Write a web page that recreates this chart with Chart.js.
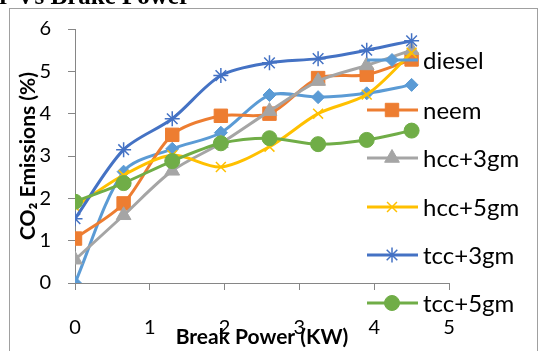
<!DOCTYPE html>
<html>
<head>
<meta charset="utf-8">
<script src="https://cdn.jsdelivr.net/npm/chart.js@4.4.1/dist/chart.umd.min.js"></script>
<style>
  html, body { margin: 0; padding: 0; background: #fff; }
  canvas { display: block; }
</style>
</head>
<body>
<canvas id="co2Chart" width="541" height="351"></canvas>
<script>
// break power (KW) for each reading
const breakPower = [0, 0.65, 1.3, 1.95, 2.6, 3.25, 3.9, 4.5];

// CO2 emissions (%) per fuel
const diesel = [0, 2.63, 3.17, 3.55, 4.44, 4.39, 4.48, 4.68];
const neem = [1.05, 1.88, 3.5, 3.95, 4.0, 4.84, 4.92, 5.28];
const hcc3 = [0.55, 1.6, 2.65, 3.3, 4.06, 4.77, 5.14, 5.5];
const hcc5 = [1.8, 2.55, 3.02, 2.74, 3.22, 4.0, 4.45, 5.44];
const tcc3 = [1.52, 3.15, 3.88, 4.9, 5.2, 5.3, 5.5, 5.72];
const tcc5 = [1.92, 2.36, 2.88, 3.3, 3.42, 3.28, 3.38, 3.6];

const seriesNames = ['diesel', 'neem', 'hcc+3gm', 'hcc+5gm', 'tcc+3gm', 'tcc+5gm'];
const seriesValues = [diesel, neem, hcc3, hcc5, tcc3, tcc5];
const colors = ['#5B9BD5', '#ED7D31', '#A5A5A5', '#FFC000', '#4472C4', '#70AD47'];
const markers = ['rectRot', 'rect', 'triangle', 'crossRot', 'star', 'circle'];
const markerSize = [6.5, 9.5, 8.5, 7, 7.5, 7.5];

const axisGray = '#868686';

const datasets = seriesNames.map((name, i) => ({
  label: name,
  data: breakPower.map((x, j) => ({ x: x, y: seriesValues[i][j] })),
  borderColor: colors[i],
  backgroundColor: colors[i],
  borderWidth: 3,
  tension: 0.3,
  pointStyle: markers[i],
  pointRadius: markerSize[i],
  pointBorderWidth: (markers[i] === 'crossRot' || markers[i] === 'star') ? 1.5 : 1,
  pointBackgroundColor: colors[i],
  pointBorderColor: colors[i],
  order: seriesNames.length - i,
}));

// white page, grey frame and the clipped title above it
const framePlugin = {
  id: 'frame',
  beforeDraw(chart) {
    const ctx = chart.ctx;
    ctx.save();
    ctx.fillStyle = '#fff';
    ctx.fillRect(0, 0, chart.width, chart.height);
    ctx.strokeStyle = '#A0A0A0';
    ctx.lineWidth = 1;
    ctx.strokeRect(9.5, 8.5, 528, 400);
    ctx.fillStyle = '#000';
    ctx.font = 'bold 25px "Liberation Serif"';
    ctx.textAlign = 'right';
    ctx.textBaseline = 'alphabetic';
    ctx.fillText('CO2 Emission for Vs Brake Power', 190, 4);
    ctx.restore();
  },
};

// legend sits over the right part of the plot like the original
const legendPlugin = {
  id: 'sideLegend',
  afterDraw(chart) {
    const ctx = chart.ctx;
    const rows = [60, 110, 158, 207, 255, 303];
    ctx.save();
    chart.data.datasets.forEach((ds, i) => {
      const y = rows[i];
      ctx.strokeStyle = ds.borderColor;
      ctx.lineWidth = 3;
      ctx.beginPath();
      ctx.moveTo(367, y);
      ctx.lineTo(418, y);
      ctx.stroke();
      ctx.fillStyle = ds.pointBackgroundColor;
      ctx.strokeStyle = ds.pointBorderColor;
      ctx.lineWidth = ds.pointBorderWidth;
      Chart.helpers.drawPoint(ctx, { pointStyle: ds.pointStyle, radius: ds.pointRadius, rotation: 0, borderWidth: ds.pointBorderWidth }, 392, y);
      ctx.fillStyle = '#000';
      ctx.font = '24px Lato';
      ctx.textAlign = 'left';
      ctx.textBaseline = 'middle';
      ctx.fillText(ds.label, 423, y + 1);
    });
    ctx.restore();
  },
};

new Chart(document.getElementById('co2Chart'), {
  type: 'line',
  data: { datasets: datasets },
  options: {
    responsive: false,
    animation: false,
    layout: { padding: { left: 0, right: 92, top: 24, bottom: 0 } },
    plugins: {
      legend: { display: false },
      tooltip: { enabled: false },
    },
    scales: {
      x: {
        type: 'linear',
        min: 0,
        max: 5,
        afterFit: (scale) => { scale.height = 68; },
        ticks: { stepSize: 1, padding: 26, color: '#000', font: { family: 'Lato', size: 20 } },
        grid: { drawOnChartArea: false, drawTicks: true, tickLength: 7, color: axisGray },
        border: { display: true, color: axisGray, width: 1 },
        title: {
          display: true,
          text: 'Break Power (KW)',
          color: '#000',
          font: { family: 'Lato', size: 21, weight: 'bold' },
          padding: { top: 0, bottom: 1 },
        },
      },
      y: {
        min: 0,
        max: 6,
        afterFit: (scale) => { scale.width = 75; },
        ticks: { stepSize: 1, padding: 17, color: '#000', font: { family: 'Lato', size: 20 } },
        grid: { drawOnChartArea: false, drawTicks: true, tickLength: 7, color: axisGray },
        border: { display: true, color: axisGray, width: 1 },
        title: {
          display: true,
          text: 'CO₂ Emissions (%)',
          color: '#000',
          font: { family: 'Lato', size: 21, weight: 'bold' },
          padding: { top: 16, bottom: 0 },
        },
      },
    },
  },
  plugins: [framePlugin, legendPlugin],
});
</script>
</body>
</html>
